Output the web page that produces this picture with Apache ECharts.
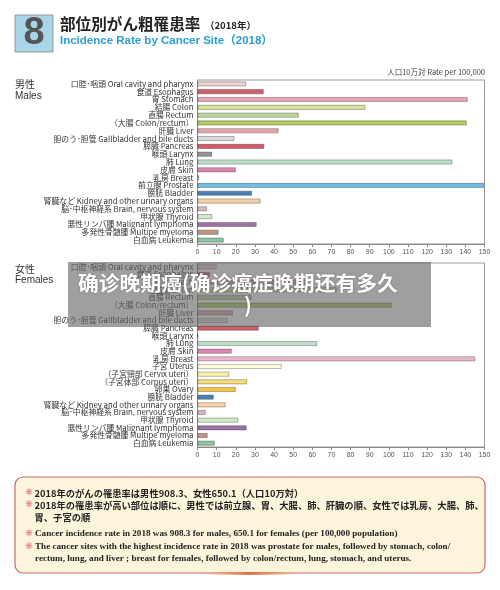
<!DOCTYPE html>
<html><head><meta charset="utf-8">
<script src="https://cdn.jsdelivr.net/npm/echarts/dist/echarts.min.js"></script>
<style>html,body{margin:0;padding:0;background:#fff}#c{width:500px;height:590px}</style>
</head><body><div id="c"></div>
<script>
var maleCategories = ['口腔･咽頭 Oral cavity and pharynx','食道 Esophagus','胃 Stomach','結腸 Colon','直腸 Rectum','（大腸 Colon/rectum）','肝臓 Liver','胆のう･胆管 Gallbladder and bile ducts','膵臓 Pancreas','喉頭 Larynx','肺 Lung','皮膚 Skin','乳房 Breast','前立腺 Prostate','膀胱 Bladder','腎臓など Kidney and other urinary organs','脳･中枢神経系 Brain, nervous system','甲状腺 Thyroid','悪性リンパ腫 Malignant lymphoma','多発性骨髄腫 Multipe myeloma','白血病 Leukemia'];
var maleValues = [25.5,34.6,141.2,87.7,52.9,140.7,42.4,19.3,34.9,7.6,133.2,20.0,0.8,149.8,28.5,33.0,5.0,7.7,30.9,11.0,13.7];
var femaleCategories = ['口腔･咽頭 Oral cavity and pharynx','食道 Esophagus','胃 Stomach','結腸 Colon','直腸 Rectum','（大腸 Colon/rectum）','肝臓 Liver','胆のう･胆管 Gallbladder and bile ducts','膵臓 Pancreas','喉頭 Larynx','肺 Lung','皮膚 Skin','乳房 Breast','子宮 Uterus','（子宮頸部 Cervix uteri）','（子宮体部 Corpus uteri）','卵巣 Ovary','膀胱 Bladder','腎臓など Kidney and other urinary organs','脳･中枢神経系 Brain, nervous system','甲状腺 Thyroid','悪性リンパ腫 Malignant lymphoma','多発性骨髄腫 Multipe myeloma','白血病 Leukemia'];
var femaleValues = [10.0,6.5,57.0,72.8,28.3,101.5,18.5,15.8,32.0,0.3,62.6,17.9,145.1,44.0,16.6,26.0,20.0,8.5,14.7,4.3,21.3,25.7,5.3,9.0];

// styles
var maleColors = ['#f3d2d2','#d2606c','#e3a3b3','#d6e39c','#bcd69c','#b3ce62','#e3a5a5','#d9d9d9','#d25c6a','#959595','#bcdecb','#d98ab2','#f2cadb','#72bde3','#4b82b3','#f6d3a4','#d4bcbc','#d4eac4','#9a72a3','#c29484','#8cc4a4'];
var femaleColors = ['#f3d2d2','#d2606c','#e3a3b3','#d6e39c','#bcd69c','#b3ce62','#e3a5a5','#d9d9d9','#d25c6a','#959595','#bcdecb','#d98ab2','#ebb6cc','#fffbd6','#fff2a8','#f9db78','#f1c444','#4b82b3','#f6d3a4','#d4bcbc','#d4eac4','#9a72a3','#c29484','#8cc4a4'];

function items(vals, cols){
  return vals.map(function(v,i){return {value:v,itemStyle:{color:cols[i]}};});
}
var jp = '"Noto Sans CJK JP",sans-serif';
function xAx(gi){
  return {type:'value',gridIndex:gi,min:0,max:150,interval:10,
    axisLine:{show:true,lineStyle:{color:'#888',width:1}},
    axisTick:{show:true,length:3,lineStyle:{color:'#888'}},
    splitLine:{show:false},
    axisLabel:{fontSize:7,color:'#555',margin:5,fontFamily:'"Liberation Sans",sans-serif'}};
}
function yAx(gi,cats){
  return {type:'category',gridIndex:gi,data:cats,inverse:true,
    axisLine:{show:true,lineStyle:{color:'#888'}},axisTick:{show:false},
    axisLabel:{fontSize:7.8,lineHeight:8,color:'#333',margin:4,interval:0,fontFamily:jp}};
}
var chart = echarts.init(document.getElementById('c'),null,{renderer:'canvas'});
var ser = '"Liberation Serif",serif';
chart.setOption({
  animation:false,
  backgroundColor:'#fff',
  grid:[
    {left:197.5,right:15.5,top:80,height:164,show:true,borderColor:'#999',borderWidth:1},
    {left:197.5,right:15.5,top:263,height:184,show:true,borderColor:'#999',borderWidth:1}
  ],
  xAxis:[xAx(0),xAx(1)],
  yAxis:[yAx(0,maleCategories),yAx(1,femaleCategories)],
  series:[
    {type:'bar',xAxisIndex:0,yAxisIndex:0,barWidth:5,data:items(maleValues,maleColors),
      itemStyle:{borderColor:'rgba(0,0,0,0.35)',borderWidth:0.8}},
    {type:'bar',xAxisIndex:1,yAxisIndex:1,barWidth:5,data:items(femaleValues,femaleColors),
      itemStyle:{borderColor:'rgba(0,0,0,0.35)',borderWidth:0.8}}
  ],
  graphic:[
    {type:'rect',shape:{x:15,y:15,width:38,height:37},style:{fill:'#a9d5e8',stroke:'#999',lineWidth:1}},
    {type:'text',x:34,y:34,style:{text:'8',font:'bold 38px "Liberation Sans",sans-serif',fill:'#555',textAlign:'center',textVerticalAlign:'middle'}},
    {type:'text',x:60,y:24,style:{text:'部位別がん粗罹患率',font:'bold 15.6px '+jp,fill:'#222',textVerticalAlign:'middle'}},
    {type:'text',x:205,y:25,style:{text:'（2018年）',font:'bold 9.5px '+jp,fill:'#222',textVerticalAlign:'middle'}},
    {type:'text',x:60,y:41,style:{text:'Incidence Rate by Cancer Site（2018）',font:'bold 11.5px "Liberation Sans","Noto Sans CJK JP",sans-serif',fill:'#2a9fd4',textVerticalAlign:'middle'}},
    {type:'text',x:485,y:72,style:{text:'人口10万対 Rate per 100,000',font:'7.5px '+jp,fill:'#444',textAlign:'right',textVerticalAlign:'middle'}},
    {type:'text',x:15,y:84,style:{text:'男性',font:'10px '+jp,fill:'#333',textVerticalAlign:'middle'}},
    {type:'text',x:15,y:96,style:{text:'Males',font:'10px "Liberation Sans",sans-serif',fill:'#333',textVerticalAlign:'middle'}},
    {type:'text',x:15,y:269,style:{text:'女性',font:'10px '+jp,fill:'#333',textVerticalAlign:'middle'}},
    {type:'text',x:15,y:280,style:{text:'Females',font:'10px "Liberation Sans",sans-serif',fill:'#333',textVerticalAlign:'middle'}},
    // notes box
    {type:'rect',shape:{x:15,y:477,width:470,height:96,r:8},style:{fill:'#fdf5db',stroke:'#c96a6a',lineWidth:1.2}},
    {type:'rect',shape:{x:200,y:572,width:100,height:3},style:{fill:new echarts.graphic.LinearGradient(0,0,1,0,[{offset:0,color:'rgba(240,150,60,0)'},{offset:0.5,color:'rgba(220,90,40,0.8)'},{offset:1,color:'rgba(240,150,60,0)'}])}},
    {type:'text',x:29,y:493,style:{text:'❋',font:'9px "DejaVu Sans",sans-serif',fill:'#e07a88',textAlign:'center',textVerticalAlign:'middle'}},
    {type:'text',x:34.5,y:493,style:{text:'2018年のがんの罹患率は男性908.3、女性650.1（人口10万対）',font:'bold 9.3px '+jp,fill:'#222',textVerticalAlign:'middle'}},
    {type:'text',x:29,y:505,style:{text:'❋',font:'9px "DejaVu Sans",sans-serif',fill:'#e07a88',textAlign:'center',textVerticalAlign:'middle'}},
    {type:'text',x:34.5,y:505,style:{text:'2018年の罹患率が高い部位は順に、男性では前立腺、胃、大腸、肺、肝臓の順、女性では乳房、大腸、肺、',font:'bold 9.3px '+jp,fill:'#222',textVerticalAlign:'middle'}},
    {type:'text',x:34.5,y:517,style:{text:'胃、子宮の順',font:'bold 9.3px '+jp,fill:'#222',textVerticalAlign:'middle'}},
    {type:'text',x:29,y:534,style:{text:'❋',font:'9px "DejaVu Sans",sans-serif',fill:'#e07a88',textAlign:'center',textVerticalAlign:'middle'}},
    {type:'text',x:35,y:534,style:{text:'Cancer incidence rate in 2018 was 908.3 for males, 650.1 for females (per 100,000 population)',font:'bold 9.15px '+ser,fill:'#222',textVerticalAlign:'middle'}},
    {type:'text',x:29,y:546.5,style:{text:'❋',font:'9px "DejaVu Sans",sans-serif',fill:'#e07a88',textAlign:'center',textVerticalAlign:'middle'}},
    {type:'text',x:35,y:546.5,style:{text:'The cancer sites with the highest incidence rate in 2018 was prostate for males, followed by stomach, colon/',font:'bold 9.15px '+ser,fill:'#222',textVerticalAlign:'middle'}},
    {type:'text',x:35,y:559,style:{text:'rectum, lung, and liver ; breast for females, followed by colon/rectum, lung, stomach, and uterus.',font:'bold 9.15px '+ser,fill:'#222',textVerticalAlign:'middle'}},
    // overlay
    {type:'rect',z:100,shape:{x:68,y:262,width:363,height:65},style:{fill:'rgba(100,100,100,0.62)'}},
    {type:'text',z:101,x:78,y:283,style:{text:'确诊晚期癌(确诊癌症晚期还有多久',font:'bold 20.8px "Noto Sans CJK SC",sans-serif',fill:'#fff',textVerticalAlign:'middle',textShadowColor:'rgba(0,0,0,0.3)',textShadowBlur:2}},
    {type:'text',z:101,x:244,y:305,style:{text:')',font:'bold 20.8px "Noto Sans CJK SC",sans-serif',fill:'#fff',textVerticalAlign:'middle',textShadowColor:'rgba(0,0,0,0.3)',textShadowBlur:2}}
  ]
});
</script></body></html>
